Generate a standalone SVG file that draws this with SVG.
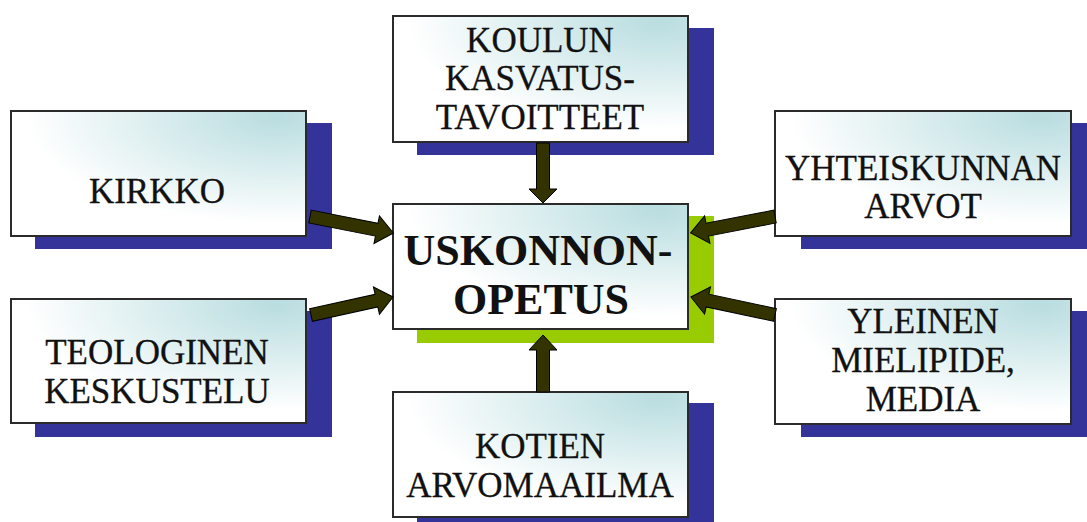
<svg xmlns="http://www.w3.org/2000/svg" width="1087" height="522" viewBox="0 0 1087 522">
<defs>
<radialGradient id="boxfill" cx="0.9" cy="0.05" r="1" fx="0.9" fy="0.05">
<stop offset="0" stop-color="#b9dde0"/>
<stop offset="0.5" stop-color="#e2f1f2"/>
<stop offset="0.85" stop-color="#ffffff"/>
</radialGradient>
<style>
.shadow{fill:#333399}
.green{fill:#99cc00}
.box{fill:url(#boxfill);stroke:#2b2b2b;stroke-width:2}
.t{font-family:'Liberation Serif','DejaVu Serif',serif;font-size:35px;fill:#111;stroke:#111;stroke-width:0.3;text-anchor:middle}
.big{font-family:'Liberation Serif','DejaVu Serif',serif;font-size:44px;font-weight:bold;fill:#111;text-anchor:middle}
.arrow{fill:#333300;stroke:#000;stroke-width:1;stroke-linejoin:miter}
</style>
</defs>
<rect width="1087" height="522" fill="#ffffff"/>

<g id="center">
<rect class="green" x="417" y="216" width="297" height="127"/>
<rect class="box" x="393" y="204" width="295" height="125"/>
<text class="big" x="538" y="265">USKONNON-</text>
<text class="big" x="541" y="314">OPETUS</text>
</g>

<g id="koulun">
<rect class="shadow" x="417" y="28" width="297" height="127"/>
<rect class="box" x="393" y="16" width="295" height="126"/>
<text class="t" x="540" y="52">KOULUN</text>
<text class="t" x="540" y="90">KASVATUS-</text>
<text class="t" x="540" y="129">TAVOITTEET</text>
</g>

<g id="kirkko">
<rect class="shadow" x="35" y="123" width="297" height="126"/>
<rect class="box" x="11" y="111" width="295" height="125"/>
<text class="t" x="157" y="203">KIRKKO</text>
</g>

<g id="teologinen">
<rect class="shadow" x="35" y="311" width="297" height="126"/>
<rect class="box" x="11" y="299" width="295" height="124"/>
<text class="t" x="157" y="364">TEOLOGINEN</text>
<text class="t" x="157" y="403">KESKUSTELU</text>
</g>

<g id="yhteiskunnan">
<rect class="shadow" x="801" y="123" width="290" height="126"/>
<rect class="box" x="775" y="111" width="296" height="125"/>
<text class="t" x="923" y="180">YHTEISKUNNAN</text>
<text class="t" x="923" y="218">ARVOT</text>
</g>

<g id="yleinen">
<rect class="shadow" x="801" y="311" width="290" height="126"/>
<rect class="box" x="775" y="299" width="296" height="125"/>
<text class="t" x="923" y="333">YLEINEN</text>
<text class="t" x="923" y="372">MIELIPIDE,</text>
<text class="t" x="923" y="411">MEDIA</text>
</g>

<g id="kotien">
<rect class="shadow" x="417" y="403" width="297" height="130"/>
<rect class="box" x="393" y="392" width="295" height="125"/>
<text class="t" x="540" y="458">KOTIEN</text>
<text class="t" x="540" y="497">ARVOMAAILMA</text>
</g>

<g id="connectors">
<path class="arrow" transform="translate(543,143) rotate(90)" d="M0,-6.5 H46 V-14 L60,0 L46,14 V6.5 H0 Z"/>
<path class="arrow" transform="translate(543,392) rotate(-90)" d="M0,-6.5 H42 V-14 L57,0 L42,14 V6.5 H0 Z"/>
<path class="arrow" transform="translate(310,216.5) rotate(11.2)" d="M0,-6.5 H68 V-14 L85,0 L68,14 V6.5 H0 Z"/>
<path class="arrow" transform="translate(311,315) rotate(-12.4)" d="M0,-6.5 H67 V-14 L84,0 L67,14 V6.5 H0 Z"/>
<path class="arrow" transform="translate(775,216.5) rotate(169)" d="M0,-6.5 H69 V-14 L86,0 L69,14 V6.5 H0 Z"/>
<path class="arrow" transform="translate(775,315) rotate(192.1)" d="M0,-6.5 H69 V-14 L86,0 L69,14 V6.5 H0 Z"/>
</g>
</svg>
